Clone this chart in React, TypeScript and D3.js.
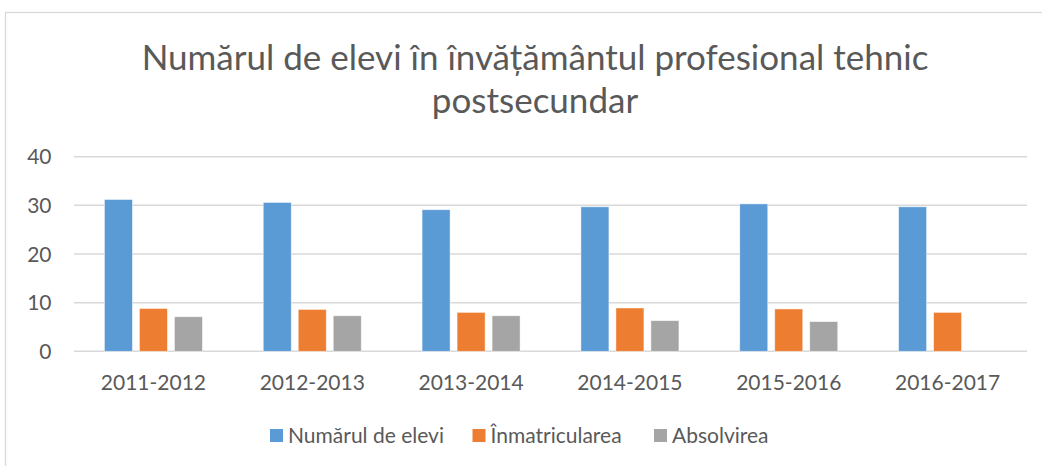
import React from "react";
import * as d3 from "d3";

const categories = ["2011-2012", "2012-2013", "2013-2014", "2014-2015", "2015-2016", "2016-2017"];
const seriesNames = ["Numărul de elevi", "Înmatricularea", "Absolvirea"];
const numarulDeElevi = [31.2, 30.6, 29.1, 29.7, 30.3, 29.7];
const inmatricularea = [8.8, 8.6, 8.0, 8.9, 8.7, 8.0];
const absolvirea: (number | null)[] = [7.1, 7.3, 7.3, 6.3, 6.1, null];
const yTicks = [0, 10, 20, 30, 40];
const colors = ["#5b9bd5", "#ed7d31", "#a5a5a5"];
const titleLines = ["Numărul de elevi în învățământul profesional tehnic", "postsecundar"];

const FONT = "Lato, 'Open Sans', sans-serif";
const TEXT = "#595959";

export default function App() {
  const W = 1042, H = 466;
  const plotLeft = 74, plotRight = 1027;
  const y = d3.scaleLinear().domain([0, 40]).range([351.3, 156.7]);
  const x0 = d3.scaleBand<string>().domain(categories).range([plotLeft, plotRight]).padding(0);
  const x1 = d3.scaleBand<string>().domain(seriesNames).range([0, 98]).paddingInner(0.2);
  const values = [numarulDeElevi, inmatricularea, absolvirea];

  const legendItems = [
    { name: seriesNames[0], x: 270 },
    { name: seriesNames[1], x: 472.5 },
    { name: seriesNames[2], x: 654 },
  ];

  return (
    <svg width={W} height={H} style={{ position: "absolute", left: 0, top: 0, background: "#fff" }} fontFamily={FONT}>
      <rect x={5.5} y={12.5} width={W + 10} height={H + 10} fill="#fff" stroke="#d9d9d9" strokeWidth={1.3} />
      {titleLines.map((t, i) => (
        <text key={i} x={535} y={70 + i * 42.7} textAnchor="middle" fontSize={35} fill={TEXT}>{t}</text>
      ))}
      {yTicks.map((t) => (
        <g key={t}>
          <line x1={plotLeft} x2={plotRight} y1={y(t)} y2={y(t)} stroke="#d9d9d9" strokeWidth={1.5} />
          <text x={51.5} y={y(t)} dy="0.36em" textAnchor="end" fontSize={21} fill={TEXT}>{t}</text>
        </g>
      ))}
      {categories.map((c, ci) => {
        const gx = (x0(c) as number) + x0.bandwidth() / 2 - 49;
        return (
          <g key={c}>
            {seriesNames.map((s, si) => {
              const v = values[si][ci];
              if (v == null) return null;
              return (
                <rect key={s} x={gx + (x1(s) as number)} y={y(v)} width={x1.bandwidth()} height={y(0) - y(v)}
                  fill={colors[si]} stroke="#fff" strokeOpacity={0.6} strokeWidth={0.75} />
              );
            })}
            <text x={(x0(c) as number) + x0.bandwidth() / 2} y={390} textAnchor="middle" fontSize={21} fill={TEXT}>{c}</text>
          </g>
        );
      })}
      {legendItems.map((l, i) => (
        <g key={l.name}>
          <rect x={l.x} y={429} width={13} height={13} fill={colors[i]} />
          <text x={l.x + 18} y={443} fontSize={21} fill={TEXT}>{l.name}</text>
        </g>
      ))}
    </svg>
  );
}
